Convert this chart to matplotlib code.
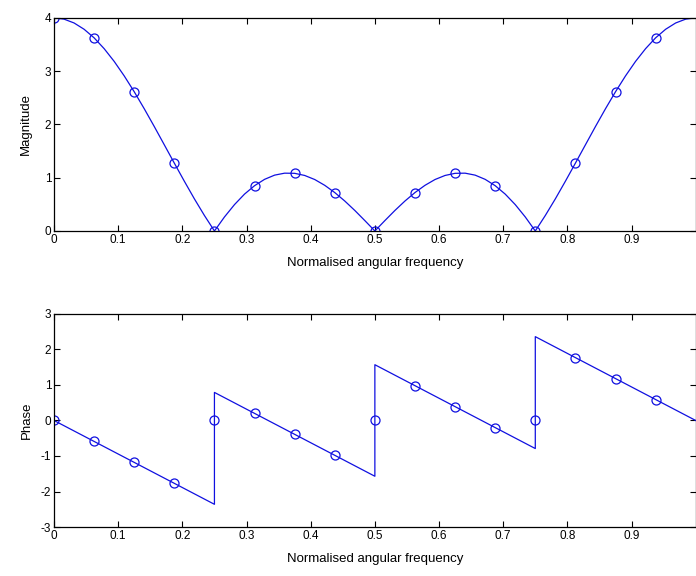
import matplotlib.pyplot as plt

plt.rcParams['font.family'] = 'Liberation Sans'
plt.rcParams['font.size'] = 8.5
plt.rcParams['axes.unicode_minus'] = False

# DFT samples (k/16)
f_pts = [0, 0.0625, 0.125, 0.1875, 0.25, 0.3125, 0.375, 0.4375,
         0.5, 0.5625, 0.625, 0.6875, 0.75, 0.8125, 0.875, 0.9375]
mag_pts = [4.0, 3.62, 2.61, 1.27, 0.0, 0.85, 1.08, 0.72,
           0.0, 0.72, 1.08, 0.85, 0.0, 1.27, 2.61, 3.62]
phase_pts = [0.0, -0.59, -1.18, -1.77, 0.0, 0.20, -0.39, -0.98,
             0.0, 0.98, 0.39, -0.20, 0.0, 1.77, 1.18, 0.59]

# continuous magnitude curve (step 1/64)
f_curve = [k / 64 for k in range(65)]
mag_curve = [4.0, 3.976, 3.904, 3.786, 3.625, 3.422, 3.183, 2.911,
             2.613, 2.294, 1.960, 1.617, 1.273, 0.933, 0.603, 0.291,
             0.0, 0.263, 0.495, 0.692, 0.850, 0.969, 1.048, 1.085,
             1.082, 1.042, 0.966, 0.857, 0.721, 0.562, 0.385, 0.195,
             0.0, 0.195, 0.385, 0.562, 0.721, 0.857, 0.966, 1.042,
             1.082, 1.085, 1.048, 0.969, 0.850, 0.692, 0.495, 0.263,
             0.0, 0.291, 0.603, 0.933, 1.273, 1.617, 1.960, 2.294,
             2.613, 2.911, 3.183, 3.422, 3.625, 3.786, 3.904, 3.976, 4.0]

# continuous phase curve (breakpoints)
f_phase = [0, 0.25, 0.25, 0.5, 0.5, 0.75, 0.75, 1.0]
phase_curve = [0.0, -2.36, 0.79, -1.57, 1.57, -0.79, 2.36, 0.0]

xticks = [0, 0.1, 0.2, 0.3, 0.4, 0.5, 0.6, 0.7, 0.8, 0.9]
xlabels = ['0', '0.1', '0.2', '0.3', '0.4', '0.5', '0.6', '0.7', '0.8', '0.9']

fig = plt.figure(figsize=(6.96, 5.76), dpi=100)
ax1 = fig.add_axes([0.0776, 0.599, 0.922, 0.370])
ax2 = fig.add_axes([0.0776, 0.085, 0.922, 0.370])

blue = '#1010e0'
ax1.plot(f_curve, mag_curve, color=blue, lw=0.9)
ax1.plot(f_pts, mag_pts, 'o', mfc='none', mec=blue, ms=6.5, mew=0.9)
ax1.set_xlim(0, 1)
ax1.set_ylim(0, 4)
ax1.set_yticks([0, 1, 2, 3, 4])
ax1.set_ylabel('Magnitude', labelpad=9, fontsize=9.5)
ax1.set_xlabel('Normalised angular frequency', labelpad=8, fontsize=9.5)

ax2.plot(f_phase, phase_curve, color=blue, lw=0.9)
ax2.plot(f_pts, phase_pts, 'o', mfc='none', mec=blue, ms=6.5, mew=0.9)
ax2.set_xlim(0, 1)
ax2.set_ylim(-3, 3)
ax2.set_yticks([-3, -2, -1, 0, 1, 2, 3])
ax2.set_ylabel('Phase', labelpad=6, fontsize=9.5)
ax2.set_xlabel('Normalised angular frequency', labelpad=8, fontsize=9.5)

for ax in (ax1, ax2):
    ax.set_xticks(xticks)
    ax.set_xticklabels(xlabels)
    ax.tick_params(direction='in', top=True, right=True, length=4, width=0.8, pad=2)
    for s in ax.spines.values():
        s.set_linewidth(0.9)

fig.savefig('out.png', dpi=100)
